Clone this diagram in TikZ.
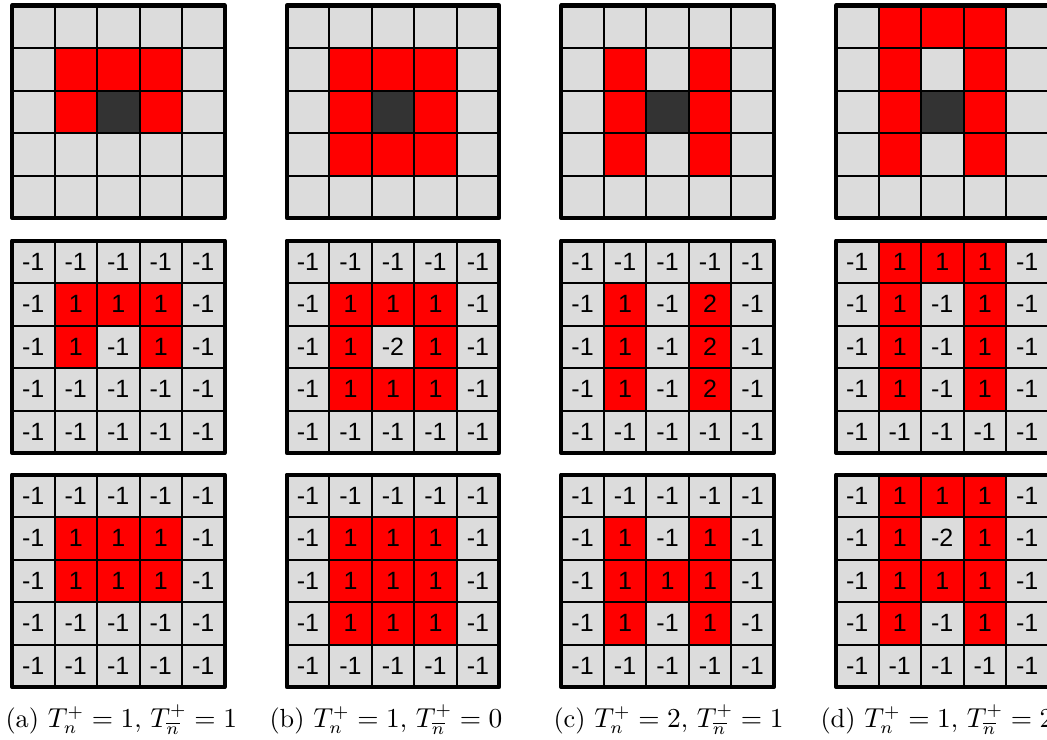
\documentclass[tikz,border=0pt]{standalone}
\usepackage{fontspec}
\newfontfamily\numfont{Liberation Sans}
\definecolor{gy}{RGB}{220,220,220}
\definecolor{rd}{RGB}{255,0,0}
\definecolor{dk}{RGB}{51,51,51}
\tikzset{
  cellbox/.style={draw=black, line width=0.8pt},
  gridframe/.style={draw=black, line width=1.6pt, line join=round},
  cellnum/.style={font=\numfont\fontsize{10}{12}\selectfont, inner sep=0pt},
  captext/.style={font=\fontsize{10.5}{13}\selectfont, anchor=base west, inner sep=0pt},
}
\newcommand\drawgrid[4]{%
  \foreach \c/\t [count=\k from 0] in {#4} {
    \pgfmathtruncatemacro\rr{\k/5}
    \pgfmathtruncatemacro\cc{\k-5*\rr}
    \path[cellbox, fill=\c] ({#2+42.5*\cc},{#3+42.5*\rr}) rectangle ++(42.5,42.5);
    \node[cellnum] (#1-\rr-\cc) at ({#2+42.5*\cc+21.25},{#3+42.5*\rr+21.25}) {\t};
  }
  \path[gridframe] (#2,#3) rectangle ++(212.5,212.5);
}
\begin{document}
\begin{tikzpicture}[x=0.4pt, y=-0.4pt]
\useasboundingbox (0,0) rectangle (1047,740);
\clip (0,0) rectangle (1047,740);
% ---- row 1: patterns
\drawgrid{a1}{12}{5.5}{gy/{},gy/{},gy/{},gy/{},gy/{},
  gy/{},rd/{},rd/{},rd/{},gy/{},
  gy/{},rd/{},dk/{},rd/{},gy/{},
  gy/{},gy/{},gy/{},gy/{},gy/{},
  gy/{},gy/{},gy/{},gy/{},gy/{}}
\drawgrid{b1}{286.7}{5.5}{gy/{},gy/{},gy/{},gy/{},gy/{},
  gy/{},rd/{},rd/{},rd/{},gy/{},
  gy/{},rd/{},dk/{},rd/{},gy/{},
  gy/{},rd/{},rd/{},rd/{},gy/{},
  gy/{},gy/{},gy/{},gy/{},gy/{}}
\drawgrid{c1}{561.3}{5.5}{gy/{},gy/{},gy/{},gy/{},gy/{},
  gy/{},rd/{},gy/{},rd/{},gy/{},
  gy/{},rd/{},dk/{},rd/{},gy/{},
  gy/{},rd/{},gy/{},rd/{},gy/{},
  gy/{},gy/{},gy/{},gy/{},gy/{}}
\drawgrid{d1}{836}{5.5}{gy/{},rd/{},rd/{},rd/{},gy/{},
  gy/{},rd/{},gy/{},rd/{},gy/{},
  gy/{},rd/{},dk/{},rd/{},gy/{},
  gy/{},rd/{},gy/{},rd/{},gy/{},
  gy/{},gy/{},gy/{},gy/{},gy/{}}
% ---- row 2
\drawgrid{a2}{12}{240.5}{gy/-1,gy/-1,gy/-1,gy/-1,gy/-1,
  gy/-1,rd/1,rd/1,rd/1,gy/-1,
  gy/-1,rd/1,gy/-1,rd/1,gy/-1,
  gy/-1,gy/-1,gy/-1,gy/-1,gy/-1,
  gy/-1,gy/-1,gy/-1,gy/-1,gy/-1}
\drawgrid{b2}{286.7}{240.5}{gy/-1,gy/-1,gy/-1,gy/-1,gy/-1,
  gy/-1,rd/1,rd/1,rd/1,gy/-1,
  gy/-1,rd/1,gy/-2,rd/1,gy/-1,
  gy/-1,rd/1,rd/1,rd/1,gy/-1,
  gy/-1,gy/-1,gy/-1,gy/-1,gy/-1}
\drawgrid{c2}{561.3}{240.5}{gy/-1,gy/-1,gy/-1,gy/-1,gy/-1,
  gy/-1,rd/1,gy/-1,rd/2,gy/-1,
  gy/-1,rd/1,gy/-1,rd/2,gy/-1,
  gy/-1,rd/1,gy/-1,rd/2,gy/-1,
  gy/-1,gy/-1,gy/-1,gy/-1,gy/-1}
\drawgrid{d2}{836}{240.5}{gy/-1,rd/1,rd/1,rd/1,gy/-1,
  gy/-1,rd/1,gy/-1,rd/1,gy/-1,
  gy/-1,rd/1,gy/-1,rd/1,gy/-1,
  gy/-1,rd/1,gy/-1,rd/1,gy/-1,
  gy/-1,gy/-1,gy/-1,gy/-1,gy/-1}
% ---- row 3
\drawgrid{a3}{12}{474.5}{gy/-1,gy/-1,gy/-1,gy/-1,gy/-1,
  gy/-1,rd/1,rd/1,rd/1,gy/-1,
  gy/-1,rd/1,rd/1,rd/1,gy/-1,
  gy/-1,gy/-1,gy/-1,gy/-1,gy/-1,
  gy/-1,gy/-1,gy/-1,gy/-1,gy/-1}
\drawgrid{b3}{286.7}{474.5}{gy/-1,gy/-1,gy/-1,gy/-1,gy/-1,
  gy/-1,rd/1,rd/1,rd/1,gy/-1,
  gy/-1,rd/1,rd/1,rd/1,gy/-1,
  gy/-1,rd/1,rd/1,rd/1,gy/-1,
  gy/-1,gy/-1,gy/-1,gy/-1,gy/-1}
\drawgrid{c3}{561.3}{474.5}{gy/-1,gy/-1,gy/-1,gy/-1,gy/-1,
  gy/-1,rd/1,gy/-1,rd/1,gy/-1,
  gy/-1,rd/1,rd/1,rd/1,gy/-1,
  gy/-1,rd/1,gy/-1,rd/1,gy/-1,
  gy/-1,gy/-1,gy/-1,gy/-1,gy/-1}
\drawgrid{d3}{836}{474.5}{gy/-1,rd/1,rd/1,rd/1,gy/-1,
  gy/-1,rd/1,gy/-2,rd/1,gy/-1,
  gy/-1,rd/1,rd/1,rd/1,gy/-1,
  gy/-1,rd/1,gy/-1,rd/1,gy/-1,
  gy/-1,gy/-1,gy/-1,gy/-1,gy/-1}
% ---- captions
\node[captext] (capa) at (5,727) {(a) $T_n^+ = 1$, $T_{\overline{n}}^+ = 1$};
\node[captext] (capb) at (269,727) {(b) $T_n^+ = 1$, $T_{\overline{n}}^+ = 0$};
\node[captext] (capc) at (553,727) {(c) $T_n^+ = 2$, $T_{\overline{n}}^+ = 1$};
\node[captext] (capd) at (820,727) {(d) $T_n^+ = 1$, $T_{\overline{n}}^+ = 2$};
\end{tikzpicture}
\end{document}
